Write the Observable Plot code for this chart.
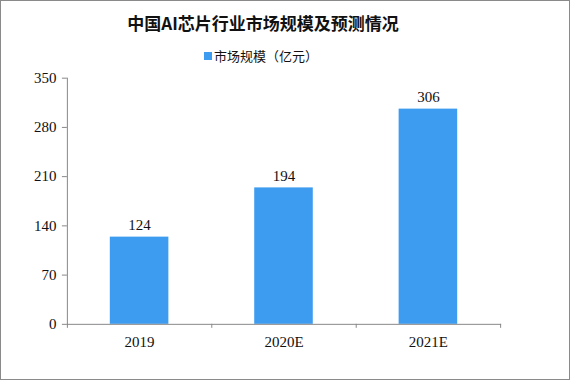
<!DOCTYPE html>
<html>
<head>
<meta charset="utf-8">
<script src="https://cdn.jsdelivr.net/npm/d3@7"></script>
<script src="https://cdn.jsdelivr.net/npm/@observablehq/plot@0.6"></script>
<style>
  html, body { margin: 0; padding: 0; background: #fff; }
  #frame { position: relative; width: 568px; height: 378px; border: 1px solid #8a8a8a; overflow: hidden; background: #fff; }
  #title { position: absolute; left: 0; width: 524px; top: 10px; text-align: center; font-family: "Noto Sans CJK SC", sans-serif; font-weight: bold; font-size: 17px; color: #111; line-height: 24px; }
  #legend { position: absolute; left: 0; width: 520px; top: 46px; text-align: center; font-family: "Noto Sans CJK SC", sans-serif; font-size: 13px; color: #111; line-height: 18px; }
  #legend .sw { display: inline-block; width: 8px; height: 8px; background: #3d9cf0; margin-right: 2px; vertical-align: 1px; }
  #chart { position: absolute; left: -1px; top: 63px; }
</style>
</head>
<body>
<div id="frame">
  <div id="title">中国AI芯片行业市场规模及预测情况</div>
  <div id="legend"><span class="sw"></span>市场规模（亿元）</div>
  <div id="chart"></div>
</div>
<script>
const categories = ["2019", "2020E", "2021E"];
const values = [124, 194, 306];
const yTicks = [0, 70, 140, 210, 280, 350];
const seriesName = "市场规模（亿元）";

const data = categories.map((c, i) => ({ category: c, index: i, value: values[i] }));
const axisColor = "#888888";
const barColor = "#3d9cf0";
const numFont = "'Liberation Serif', serif";

const plot = Plot.plot({
  width: 570,
  height: 300,
  marginTop: 13.7,
  marginBottom: 39.7,
  marginLeft: 67,
  marginRight: 69,
  style: { fontFamily: numFont, fontSize: "15px", color: "#111", background: "transparent" },
  x: { type: "linear", domain: [0, categories.length] },
  y: { domain: [0, 350] },
  marks: [
    Plot.rectY(data, {
      x1: d => d.index,
      x2: d => d.index + 1,
      y: "value",
      insetLeft: 43,
      insetRight: 43,
      fill: barColor
    }),
    Plot.text(data, {
      x: d => d.index + 0.5,
      y: "value",
      text: d => String(d.value),
      lineAnchor: "bottom",
      dy: -7,
      fill: "#111",
      fontSize: 15
    }),
    Plot.frame({ anchor: "left", stroke: axisColor }),
    Plot.frame({ anchor: "bottom", stroke: axisColor }),
    Plot.axisY({
      ticks: yTicks,
      tickSize: 5,
      tickPadding: 6,
      stroke: axisColor,
      label: null,
      fill: "#111"
    }),
    Plot.axisX({
      ticks: d3.range(categories.length + 1),
      tickSize: 4,
      stroke: axisColor,
      tickFormat: () => "",
      label: null
    }),
    Plot.axisX({
      ticks: categories.map((c, i) => i + 0.5),
      tickSize: 0,
      tickPadding: 12,
      tickFormat: v => categories[Math.floor(v)],
      label: null,
      fill: "#111"
    })
  ]
});
document.getElementById("chart").appendChild(plot);
</script>
</body>
</html>
